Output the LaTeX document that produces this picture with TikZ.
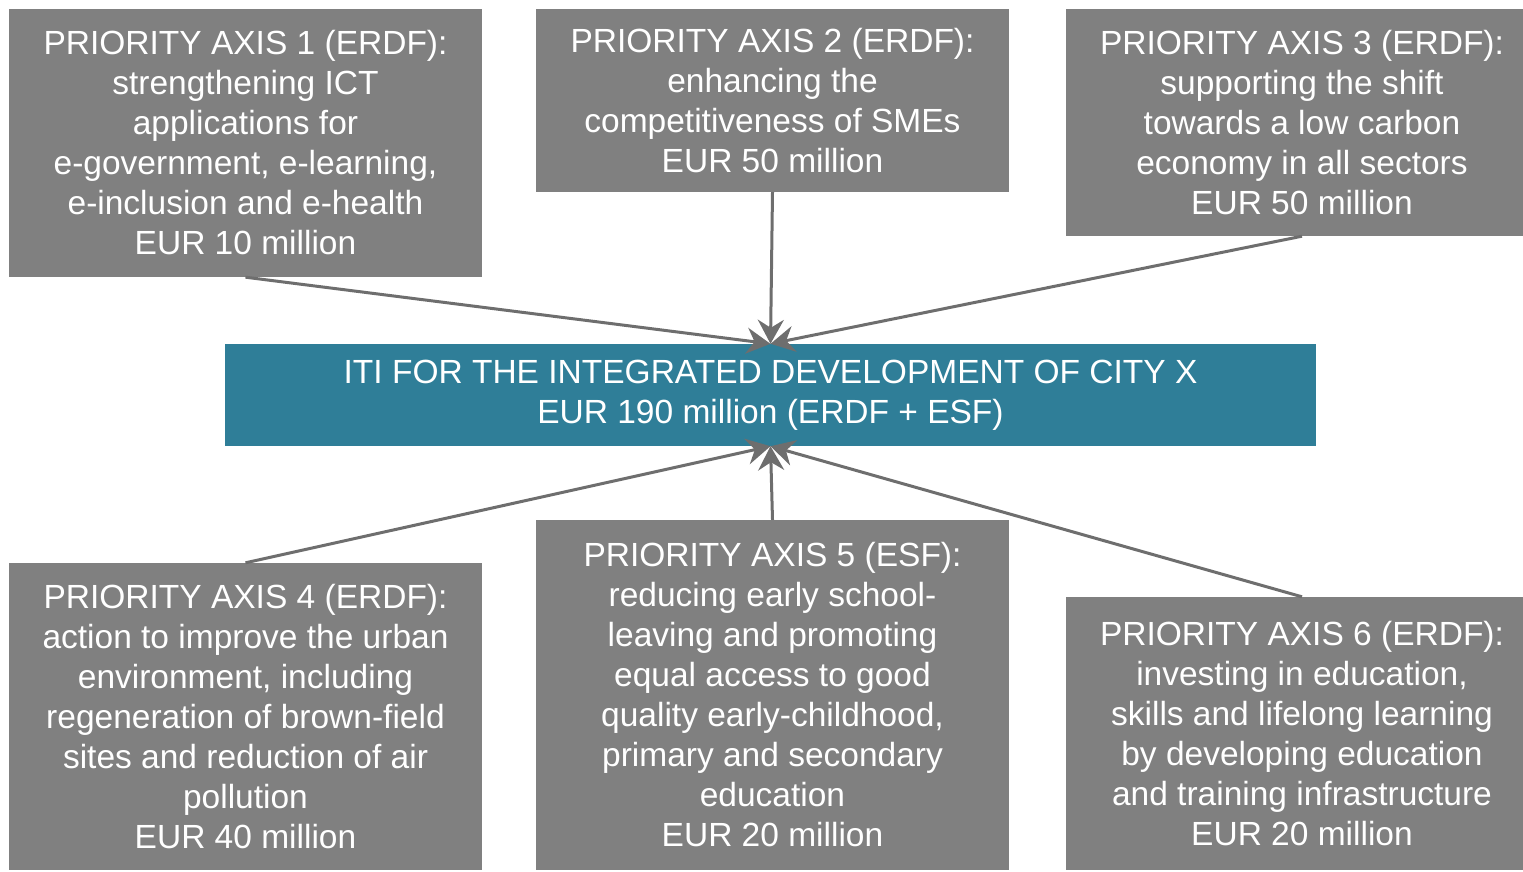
\documentclass[tikz,border=0pt]{standalone}
\usepackage{fontspec}
\setmainfont{Liberation Sans}
\usetikzlibrary{arrows.meta}
\definecolor{boxgray}{HTML}{808080}
\definecolor{teal1}{HTML}{2F7E98}
\definecolor{linegray}{HTML}{6E6E6E}
\begin{document}
\begin{tikzpicture}[x=1pt,y=-1pt,
  axisbox/.style={rectangle, fill=boxgray, text=white, inner sep=0pt, minimum width=473pt,
    align=center, font=\fontsize{33.5}{40}\selectfont},
  itibox/.style={rectangle, fill=teal1, text=white, inner sep=0pt, minimum width=1091pt, minimum height=102pt,
    align=center, font=\fontsize{33.5}{40}\selectfont},
  conn/.style={linegray, line width=3pt, -{Stealth[length=24pt,width=26pt,inset=8pt]}}]
\useasboundingbox (0,0) rectangle (1523,872);
\clip (0,0) rectangle (1523,872);
\node[axisbox, minimum height=268pt] (a1) at (245.5,143) {PRIORITY AXIS 1 (ERDF):\\strengthening ICT\\applications for\\e-government, e-learning,\\e-inclusion and e-health\\EUR 10 million};
\node[axisbox, minimum height=183pt] (a2) at (772.5,100.5) {PRIORITY AXIS 2 (ERDF):\\enhancing the\\competitiveness of SMEs\\EUR 50 million};
\node[axisbox, minimum height=227pt] (a3) at (1302,122.5) {PRIORITY AXIS 3 (ERDF):\\supporting the shift\\towards a low carbon\\economy in all sectors\\EUR 50 million};
\node[itibox] (iti) at (770.5,395) {ITI FOR THE INTEGRATED DEVELOPMENT OF CITY X\\EUR 190 million (ERDF + ESF)};
\node[axisbox, minimum height=307pt] (a4) at (245.5,716.5) {PRIORITY AXIS 4 (ERDF):\\action to improve the urban\\environment, including\\regeneration of brown-field\\sites and reduction of air\\pollution\\EUR 40 million};
\node[axisbox, minimum height=350pt] (a5) at (772.5,695) {PRIORITY AXIS 5 (ESF):\\reducing early school-\\leaving and promoting\\equal access to good\\quality early-childhood,\\primary and secondary\\education\\EUR 20 million};
\node[axisbox, minimum height=273pt] (a6) at (1302,733.5) {PRIORITY AXIS 6 (ERDF):\\investing in education,\\skills and lifelong learning\\by developing education\\and training infrastructure\\EUR 20 million};
\draw[conn] (a1.south) -- (iti.north);
\draw[conn] (a2.south) -- (iti.north);
\draw[conn] (a3.south) -- (iti.north);
\draw[conn] (a4.north) -- (iti.south);
\draw[conn] (a5.north) -- (iti.south);
\draw[conn] (a6.north) -- (iti.south);
\end{tikzpicture}
\end{document}
